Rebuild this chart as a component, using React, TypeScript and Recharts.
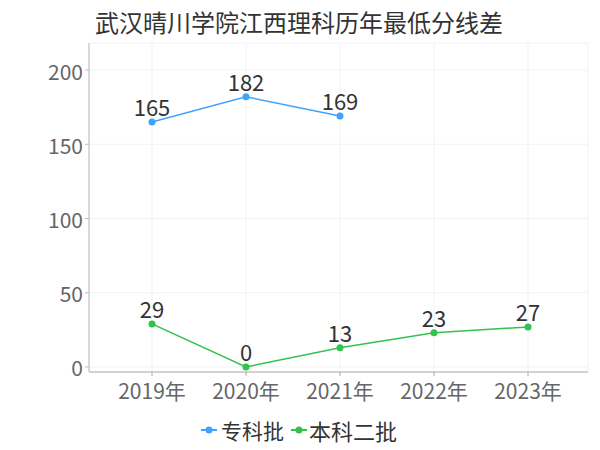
import React from "react";
import {
  LineChart,
  Line,
  XAxis,
  YAxis,
  CartesianGrid,
  LabelList,
  ReferenceArea,
} from "recharts";

const categories = ["2019年", "2020年", "2021年", "2022年", "2023年"];
const zhuanke = [165, 182, 169, null, null];
const benke2 = [29, 0, 13, 23, 27];
const yTicks = [0, 50, 100, 150, 200];
const seriesNames = ["专科批", "本科二批"];
const colors = ["#3fa2ff", "#31c24f"];

const data = categories.map((c, i) => ({ name: c, a: zhuanke[i], b: benke2[i] }));

const FONT = '"Noto Sans CJK SC", "Noto Sans", sans-serif';

const YTick = (props: any) => {
  const { x, y, payload } = props;
  return (
    <text x={x} y={y + 9.5} textAnchor="end" fontSize={21} fill="#666" fontFamily={FONT}>
      {payload.value}
    </text>
  );
};

const XTick = (props: any) => {
  const { x, payload } = props;
  return (
    <text x={x} y={399} textAnchor="middle" fontSize={21} fill="#666" fontFamily={FONT}>
      {payload.value}
    </text>
  );
};

const ValueLabel = (props: any) => {
  const { x, y, value } = props;
  if (value === null || value === undefined) return null;
  return (
    <text x={x} y={y - 6} textAnchor="middle" fontSize={22} fill="#333" fontFamily={FONT}>
      {value}
    </text>
  );
};

const LegendIcon = ({ color, left }: { color: string; left: number }) => (
  <svg style={{ position: "absolute", left, top: 422 }} width={16} height={16}>
    <line x1={0} y1={8} x2={16} y2={8} stroke={color} strokeWidth={2} />
    <circle cx={8} cy={8} r={3.5} fill={color} />
  </svg>
);

export default function App() {
  return (
    <div style={{ position: "absolute", left: 0, top: 0, width: 600, height: 450, background: "#fff", fontFamily: FONT }}>
      <div style={{ position: "absolute", left: 95, top: 9, fontSize: 24, lineHeight: "26px", color: "#333", whiteSpace: "nowrap" }}>
        武汉晴川学院江西理科历年最低分线差
      </div>
      <LineChart
        width={600}
        height={450}
        data={data}
        margin={{ top: 43, right: 12, bottom: 0, left: 0 }}
      >
        <CartesianGrid stroke="#f2f2f2" />
        <ReferenceArea fill="none" stroke="#f2f2f2" ifOverflow="visible" />
        <XAxis
          dataKey="name"
          padding={{ left: 63, right: 60 }}
          axisLine={{ stroke: "#aaa" }}
          tickLine={{ stroke: "#aaa" }}
          tickSize={4}
          tick={<XTick />}
          height={78}
        />
        <YAxis
          width={89}
          type="number"
          domain={[-3.37, 218.2]}
          ticks={yTicks}
          allowDataOverflow
          axisLine={{ stroke: "#bbb" }}
          tickLine={{ stroke: "#bbb" }}
          tickSize={4}
          tick={<YTick />}
        />
        <Line
          dataKey="a"
          name={seriesNames[0]}
          stroke={colors[0]}
          strokeWidth={1.5}
          dot={{ r: 3.5, fill: colors[0], stroke: colors[0], strokeWidth: 0 }}
          isAnimationActive={false}
        >
          <LabelList dataKey="a" content={<ValueLabel />} />
        </Line>
        <Line
          dataKey="b"
          name={seriesNames[1]}
          stroke={colors[1]}
          strokeWidth={1.5}
          dot={{ r: 3.5, fill: colors[1], stroke: colors[1], strokeWidth: 0 }}
          isAnimationActive={false}
        >
          <LabelList dataKey="b" content={<ValueLabel />} />
        </Line>
      </LineChart>
      <LegendIcon color={colors[0]} left={201} />
      <div style={{ position: "absolute", left: 221, top: 417, fontSize: 21, lineHeight: "26px", color: "#333", whiteSpace: "nowrap" }}>
        {seriesNames[0]}
      </div>
      <LegendIcon color={colors[1]} left={291} />
      <div style={{ position: "absolute", left: 309, top: 417, fontSize: 22, lineHeight: "26px", color: "#333", whiteSpace: "nowrap" }}>
        {seriesNames[1]}
      </div>
    </div>
  );
}
